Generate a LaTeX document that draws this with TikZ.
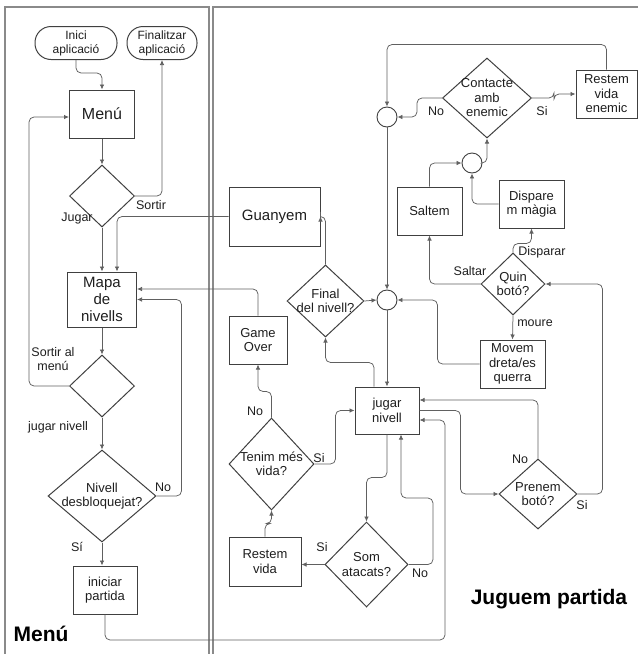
\documentclass[tikz,border=0pt]{standalone}
\usepackage{fontspec}
\setmainfont{Liberation Sans}
\usetikzlibrary{arrows.meta,shapes.geometric}
\definecolor{ink}{HTML}{404040}
\definecolor{wire}{HTML}{606060}
\definecolor{frame}{HTML}{8A8A8A}
\definecolor{txt}{HTML}{1E1E1E}
\tikzset{
  pane/.style={draw=frame, line width=1.1pt},
  box/.style n args={2}{rectangle, draw=ink, line width=1pt, text=txt, align=center,
    inner sep=0pt, minimum width=#1, minimum height=#2, font=\fontsize{13}{14.5}\selectfont},
  term/.style n args={2}{box={#1}{#2}, rounded corners=16pt, font=\fontsize{12}{14}\selectfont},
  dec/.style n args={2}{diamond, draw=ink, line width=1pt, text=txt, align=center,
    inner sep=-14pt, minimum width=#1, minimum height=#2, font=\fontsize{13}{14.5}\selectfont},
  junc/.style={circle, draw=ink, line width=0.9pt, minimum size=20pt, inner sep=0pt},
  wire/.style={draw=wire, line width=0.75pt, rounded corners=5pt, -{Latex[length=5pt,width=4.5pt]}},
  lab/.style={text=txt, font=\fontsize{12.5}{14}\selectfont, align=center, inner sep=0pt},
  ttl/.style={text=black, font=\fontsize{21}{24}\selectfont\bfseries, inner sep=0pt}
}
\begin{document}
\begin{tikzpicture}[x=1pt, y=-1pt]
  \useasboundingbox (0,0) rectangle (638,654);
  % panels
  \draw[pane] (5,654) -- (5,7) -- (209,7) -- (209,654);
  \draw[pane] (213,654) -- (213,7) -- (638,7);

  % menu column
  \node[term={82}{33}] (ini) at (76,43) {Inici\\aplicació};
  \node[term={70}{33}] (fin) at (162,43) {Finalitzar\\aplicació};
  \node[box={65}{48}, font=\fontsize{16}{18}\selectfont] (menu) at (102,114) {Menú};
  \node[dec={65}{62}] (d1) at (102,196) {};
  \node[box={69}{55}, font=\fontsize{15}{17}\selectfont] (mapa) at (102,299.5) {Mapa\\de\\nivells};
  \node[dec={65}{62}] (d2) at (102,386) {};
  \node[dec={108}{92}] (d3) at (102,496) {Nivell\\desbloquejat?};
  \node[box={64}{48}] (inip) at (105,590) {iniciar\\partida};

  % game column
  \node[junc] (c1) at (387,117) {};
  \node[junc] (c2) at (472,163) {};
  \node[junc] (c3) at (387,300) {};
  \node[dec={89}{80}] (contact) at (487,98) {Contacte\\amb\\enemic};
  \node[box={61}{48}] (rve) at (606.5,94) {Restem\\vida\\enemic};
  \node[box={65}{48}] (saltem) at (429.5,211) {Saltem};
  \node[box={65}{48}] (dispare) at (531.5,204) {Dispare\\m màgia};
  \node[dec={64}{62}] (quin) at (513,284) {Quin\\botó?};
  \node[box={65}{48}] (movem) at (512.5,364) {Movem\\dreta/es\\querra};
  \node[box={91}{59}, font=\fontsize{15}{17}\selectfont] (guanyem) at (274.5,216.5) {Guanyem};
  \node[dec={77}{72}] (final) at (325.5,301) {Final\\del nivell?};
  \node[box={58}{48}] (gameover) at (258,340) {Game\\Over};
  \node[box={64}{47}] (jugar) at (387,410.5) {jugar\\nivell};
  \node[dec={85}{92}] (tenim) at (271.5,464) {Tenim més\\vida?};
  \node[box={72}{49}] (restv) at (265,561.5) {Restem\\vida};
  \node[dec={83}{85}] (som) at (366.5,564.5) {Som\\atacats?};
  \node[dec={78}{70}] (prenem) at (538,494) {Prenem\\botó?};

  \coordinate (b1) at (445,640);
  \coordinate (b2) at (433,498);

  % connectors, menu
  \draw[wire] (ini.south) -- ++(0,13) -| (menu.north);
  \draw[wire] (menu.south) -- (d1.north);
  \draw[wire] (d1.east) -| (fin.south);
  \draw[wire] (d1.south) -- (mapa.north);
  \draw[wire] (guanyem.west) -| ([xshift=15pt]mapa.north);
  \draw[wire] (gameover.north) |- ([yshift=10.5pt]mapa.east);
  \draw[wire] (d3.east) -- ++(25,0) |- (mapa.east);
  \draw[wire] (mapa.south) -- (d2.north);
  \draw[wire] (d2.west) -- ++(-40,0) |- ([yshift=-3pt]menu.west);
  \draw[wire] (d2.south) -- (d3.north);
  \draw[wire] (d3.south) -- (d3.south |- inip.north);
  \draw[wire] (inip.south) |- (b1) |- ([yshift=-9.5pt]jugar.east);

  % connectors, game
  \draw[wire] (rve.north) -- ++(0,-25) -| (c1.north);
  \draw[wire] (contact.west) -- ++(-25,0) |- (c1.east);
  \draw[wire] (contact.east) -- ++(22,0) |- (rve.west);
  \draw[wire] (c2.east) -| (contact.south);
  \draw[wire] (saltem.north) |- (c2.west);
  \draw[wire] (dispare.west) -| (c2.south);
  \draw[wire] (c1.south) -- (c3.north);
  \draw[wire] (quin.north) -- ++(0,-9) -| (dispare.south);
  \draw[wire] (quin.west) -| (saltem.south);
  \draw[wire] (quin.south) -- (movem.north);
  \draw[wire] (movem.west) -- ++(-42,0) |- (c3.east);
  \draw[wire] (final.east) -- (c3.west);
  \draw[wire] (final.north) |- (guanyem.east);
  \draw[wire] (c3.south) -- (jugar.north);
  \draw[wire] ([xshift=-13pt]jugar.north) -- ++(0,-24) -| (final.south);
  \draw[wire] (tenim.north) -- ++(0,-26) -| (gameover.south);
  \draw[wire] (tenim.east) -- ++(21,0) |- (jugar.west);
  \draw[wire] (restv.north) -- ++(0,-13) -| (tenim.south);
  \draw[wire] (som.west) -- (som.west -| restv.east);
  \draw[wire] (jugar.south) -- ++(0,43) -| (som.north);
  \draw[wire] (som.east) -| (b2) -| ([xshift=14pt]jugar.south);
  \draw[wire] (prenem.north) |- ([yshift=10.5pt]jugar.east);
  \draw[wire] (jugar.east) -- ++(41,0) |- (prenem.west);
  \draw[wire] (prenem.east) -- ++(25,0) |- (quin.east);

  % labels
  \node[lab] (lJugar) at (77,218) {Jugar};
  \node[lab] (lSortir) at (151,205) {Sortir};
  \node[lab] (lSortirMenu) at (53,359) {Sortir al\\menú};
  \node[lab] (lJugarNivell) at (58,427) {jugar nivell};
  \node[lab] (lNoD3) at (163,487) {No};
  \node[lab] (lSiD3) at (77,547) {Sí};
  \node[lab] (lNoC) at (436,111) {No};
  \node[lab] (lSiC) at (542,111) {Si};
  \node[lab] (lDisparar) at (542,252) {Disparar};
  \node[lab] (lSaltar) at (470,271) {Saltar};
  \node[lab] (lMoure) at (535,323) {moure};
  \node[lab] (lNoT) at (255,411) {No};
  \node[lab] (lSiT) at (319,458) {Si};
  \node[lab] (lSiS) at (322,547) {Si};
  \node[lab] (lNoS) at (420,573) {No};
  \node[lab] (lNoP) at (520,459) {No};
  \node[lab] (lSiP) at (582,505) {Si};

  \node[ttl] (tMenu) at (41,634) {Menú};
  \node[ttl] (tJoc) at (549,599) {Juguem partida};
\end{tikzpicture}
\end{document}
